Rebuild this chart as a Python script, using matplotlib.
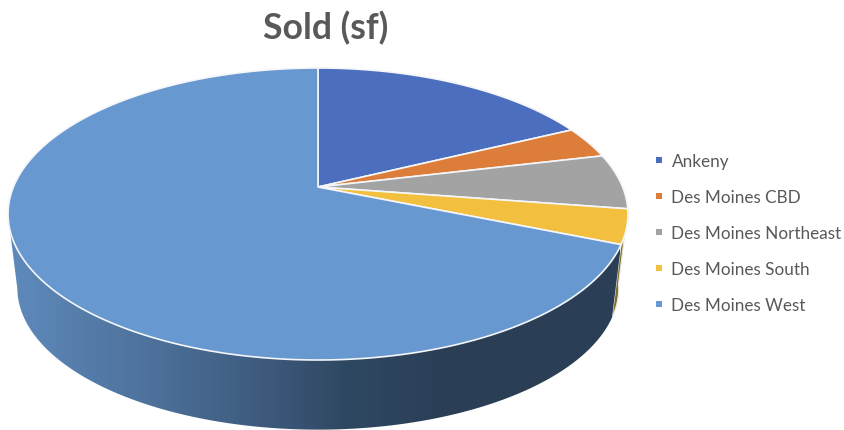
import numpy as np
import matplotlib
matplotlib.use("Agg")
import matplotlib.pyplot as plt
from matplotlib.colors import LinearSegmentedColormap
from matplotlib.lines import Line2D
from matplotlib.patches import Polygon

plt.rcParams["font.family"] = ["Lato", "DejaVu Sans"]

# Share of sold square feet per submarket
markets = ["Ankeny", "Des Moines CBD", "Des Moines Northeast", "Des Moines South", "Des Moines West"]
sold_sf = [17.8, 3.5, 6.1, 3.8, 68.8]
colors = ["#4C6EBE", "#DD7D3A", "#A3A3A3", "#F2C03E", "#6798CF"]

# Pie geometry in pixels
CX, CY = 318, 188
RX, RY = 304.6, 141.0
TILT = 0.185
DEPTH = 74
BASE_SCALE = 0.97
RIGHT_EDGE, LEFT_EDGE = 99.0, 259.0
WIDE_Y = 215


def top_rim(deg):
    t = np.radians(deg)
    u, v = np.sin(t), np.cos(t)
    s = 1 + TILT * v
    return CX + RX * u / s, CY - RY * v / s


def base_rim(deg):
    x, y = top_rim(deg)
    return CX + BASE_SCALE * (x - CX), WIDE_Y + BASE_SCALE * (y - WIDE_Y) + DEPTH


def side_poly(a, b):
    th = np.linspace(a, b, 200)
    bx, by = base_rim(th)
    tx, ty = top_rim(th[::-1])
    return np.column_stack([np.r_[bx, tx], np.r_[by, ty]])


fig = plt.figure(figsize=(8.45, 4.31), dpi=100)
ax = fig.add_axes([0, 0, 1, 1])

edges = 360 * np.cumsum([0] + sold_sf) / np.sum(sold_sf)

# sliver of the South slice wall, just past the right silhouette
south_wall = Polygon(side_poly(RIGHT_EDGE, edges[4]), closed=True, facecolor="#7D6E2A",
                     edgecolor="#E8E8E0", linewidth=0.8, zorder=1)
ax.add_patch(south_wall)

# West slice wall with its left-to-right shading
wall_cmap = LinearSegmentedColormap.from_list(
    "wall", [(0, "#5E8ABB"), (0.24, "#4C7099"), (0.40, "#3F5C80"), (0.55, "#2F4862"), (0.72, "#2A3F56"), (1, "#2A3E55")])
shade = np.linspace(0, 1, 256).reshape(1, -1)
img = ax.imshow(shade, cmap=wall_cmap, extent=(10, 620, 431, 0), aspect="auto", zorder=2)
wall = Polygon(side_poly(edges[4], LEFT_EDGE), closed=True, facecolor="none", edgecolor="none", zorder=2)
ax.add_patch(wall)
img.set_clip_path(wall)

# top faces of the slices
for i, c in enumerate(colors):
    th = np.linspace(edges[i], edges[i + 1], 200)
    x, y = top_rim(th)
    pts = np.column_stack([np.r_[CX, x], np.r_[CY, y]])
    ax.add_patch(Polygon(pts, closed=True, facecolor=c, edgecolor="#F4F6FA", linewidth=1.2,
                         joinstyle="round", zorder=3))

ax.text(326, 28, "Sold (sf)", ha="center", va="center", fontsize=25.6, fontweight="bold", color="#595959")

handles = [Line2D([], [], linestyle="none", marker="s", markersize=3.8, markeredgewidth=0, color=c) for c in colors]
ax.legend(handles, markets, loc="center left", bbox_to_anchor=(651.5, 234), bbox_transform=ax.transData,
          frameon=False, fontsize=12.3, labelcolor="#595959", labelspacing=1.16, handlelength=0.9,
          handletextpad=0.27, borderpad=0, borderaxespad=0)

ax.set_xlim(0, 845)
ax.set_ylim(431, 0)
ax.axis("off")

fig.savefig("out.png", dpi=100, facecolor="white")
